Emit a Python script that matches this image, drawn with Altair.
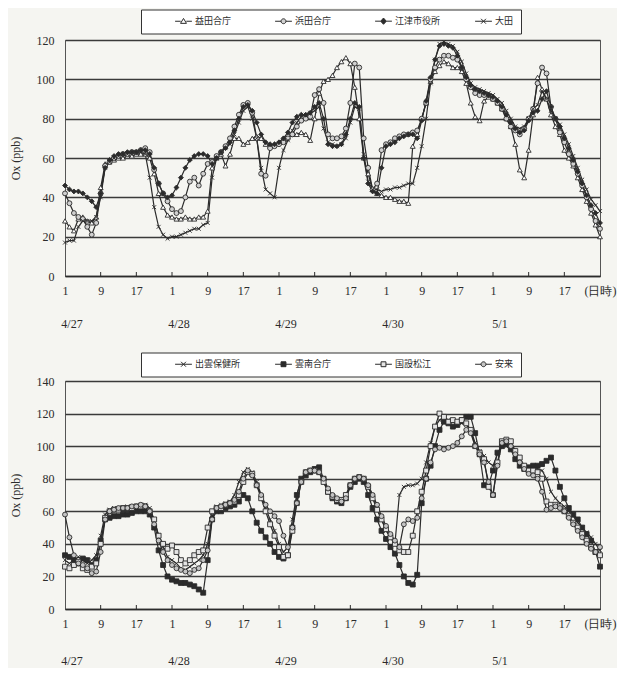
import altair as alt
import pandas as pd

hours = list(range(1, 122))
tick_hours = [1, 9, 17, 25, 33, 41, 49, 57, 65, 73, 81, 89, 97, 105, 113, 121]
inner_ticks = [9, 17, 25, 33, 41, 49, 57, 65, 73, 81, 89, 97, 105, 113]
date_labels = ["4/27", "4/28", "4/29", "4/30", "5/1"]
date_hours = [1, 25, 49, 73, 97]

top_names = ["益田合庁", "浜田合庁", "江津市役所", "大田"]
bottom_names = ["出雲保健所", "雲南合庁", "国設松江", "安来"]

masuda = [28, 25, 23, 29, 30, 28, 27, 30, 45, 57,
          58, 59, 60, 60, 61, 61, 62, 62, 62, 60,
          52, 42, 35, 31, 30, 29, 29, 30, 29, 29,
          30, 30, 33, 55, 60, 62, 56, 62, 70, 70,
          67, 68, 70, 71, 70, 67, 66, 67, 68, 70,
          72, 72, 72, 73, 72, 69, 80, 93, 99, 100,
          102, 106, 109, 111, 108, 96, 80, 60, 52, 44,
          42, 41, 40, 40, 39, 38, 38, 37, 66, 72,
          80, 88, 99, 104, 107, 109, 108, 106, 106, 104,
          98, 88, 81, 79, 89, 91, 90, 88, 85, 80,
          76, 67, 54, 50, 64, 82, 101, 95, 90, 82,
          76, 72, 64, 60, 56, 50, 44, 38, 32, 26,
          20]
hamada = [42, 37, 32, 30, 29, 25, 21, 27, 42, 56,
          58, 60, 61, 62, 62, 63, 63, 64, 65, 63,
          54, 47, 42, 38, 34, 32, 33, 40, 48, 50,
          46, 52, 57, 58, 61, 63, 66, 70, 76, 82,
          87, 88, 83, 70, 52, 51, 65, 66, 67, 68,
          70, 72, 76, 79, 80, 81, 92, 95, 88, 72,
          70, 70, 71, 75, 88, 108, 106, 70, 55, 44,
          47, 64, 67, 68, 70, 71, 72, 72, 73, 74,
          80, 88, 100, 106, 110, 112, 112, 111, 110, 106,
          100, 96, 93, 92, 92, 92, 90, 88, 85, 80,
          76, 74, 72, 75, 80, 85, 98, 106, 103, 86,
          80, 73, 68, 62, 57, 52, 46, 40, 34, 28,
          24]
gotsu = [46, 44, 43, 43, 42, 40, 38, 35, 42, 55,
         59, 61, 62, 62, 63, 63, 63, 64, 64, 62,
         55, 47, 42, 40, 41, 45, 50, 55, 59, 61,
         62, 62, 61, 57, 60, 63, 65, 68, 74, 80,
         86, 87, 84, 78, 72, 68, 67, 67, 68, 70,
         73, 78, 81, 82, 82, 83, 86, 88, 80, 67,
         66, 66, 67, 72, 80, 88, 86, 60, 47, 43,
         42, 55, 66, 67, 68, 70, 71, 72, 72, 70,
         79, 89, 101, 110, 117, 118, 117, 116, 112, 106,
         101, 97, 95, 94, 93, 92, 91, 89, 86, 82,
         78, 75, 73, 74, 79, 83, 84, 90, 94, 86,
         80, 76, 70, 65, 59, 53, 47, 41, 36, 32,
         27]
oda = [17, 18, 18, 25, 28, 28, 28, 30, 40, 55,
       58, 60, 61, 62, 62, 63, 63, 63, 62, 50,
       35, 25, 21, 19, 20, 20, 21, 22, 23, 24,
       24, 26, 27, 50, 60, 63, 65, 67, 72, 78,
       84, 86, 80, 70, 55, 44, 42, 40, 55, 64,
       69, 74, 78, 81, 82, 83, 84, 86, 75, 68,
       67, 66, 67, 70, 78, 86, 85, 62, 48, 44,
       44, 43, 44, 44, 45, 45, 46, 47, 47, 55,
       66, 80, 98, 110, 118, 119, 118, 117, 114, 109,
       103, 98, 96, 95, 94, 93, 92, 90, 88, 84,
       80, 76, 75, 76, 80, 85, 87, 94, 90, 84,
       80, 77, 72, 67, 61, 55, 49, 44, 39, 36,
       33]

izumo = [30, 28, 30, 32, 30, 28, 30, 33, 45, 58,
         61, 62, 62, 62, 63, 63, 63, 64, 64, 62,
         55, 45, 38, 32, 30, 28, 25, 24, 26, 28,
         30, 33, 40, 57, 63, 64, 65, 66, 70, 78,
         84, 86, 84, 78, 70, 62, 55, 48, 40, 35,
         38, 55, 70, 80, 84, 85, 85, 84, 78, 72,
         69, 67, 67, 70, 76, 80, 81, 80, 76, 70,
         62, 55, 48, 44, 40, 70, 75, 76, 76, 77,
         80, 90, 102, 112, 116, 117, 116, 115, 114, 114,
         113, 110, 102, 97, 94, 90, 88, 95, 100, 100,
         98, 94, 90, 88, 87, 86, 86, 85, 80, 72,
         68, 65, 63, 60, 57, 53, 50, 47, 44, 40,
         36]
unnan = [33, 32, 30, 28, 31, 30, 27, 30, 42, 55,
         56, 57, 57, 58, 58, 59, 60, 60, 60, 58,
         50, 36, 27, 20, 18, 17, 16, 16, 15, 14,
         12, 10, 30, 55, 60, 60, 62, 63, 64, 66,
         70, 68, 60, 53, 48, 44, 40, 35, 32, 31,
         33, 50, 70, 80, 82, 84, 86, 87, 80, 72,
         68, 66, 65, 68, 75, 78, 80, 78, 70, 62,
         55, 48, 43, 38, 34, 27, 20, 16, 15, 21,
         65, 80, 88, 100, 110, 115, 114, 112, 113, 116,
         118, 118, 108, 95, 76, 76, 85, 96, 100, 102,
         98, 92, 88, 86, 87, 88, 88, 89, 91, 93,
         85, 75, 68, 62, 58, 55, 50, 46, 42, 35,
         26]
matsue = [26, 25, 27, 29, 25, 24, 26, 28, 40, 56,
          60, 61, 61, 62, 62, 62, 63, 63, 63, 60,
          55, 45, 40, 37, 39, 35, 30, 28, 30, 33,
          35, 36, 50, 60, 62, 62, 64, 65, 66, 70,
          78, 84, 83, 76, 68, 60, 52, 45, 38, 32,
          33, 48, 65, 78, 84, 85, 85, 84, 78, 72,
          69, 67, 67, 70, 76, 80, 81, 80, 75, 68,
          61, 55, 49, 44, 40, 36, 35, 35, 45, 60,
          72, 85, 100, 112, 120, 118, 115, 116, 115, 116,
          114, 110, 100, 96, 92, 75, 70, 90, 103, 104,
          103, 97, 93, 88, 85, 85, 84, 80, 66, 64,
          64, 63, 60, 57, 53, 50, 46, 42, 38, 35,
          33]
yasugi = [58, 44, 33, 28, 27, 25, 22, 23, 35, 55,
          60, 61, 62, 62, 62, 63, 63, 64, 63, 60,
          52, 42, 35, 30, 27, 25, 24, 23, 22, 24,
          25, 30, 36, 55, 62, 63, 64, 65, 67, 72,
          80, 85, 82, 76, 70, 64, 60, 57, 54, 45,
          38, 50, 65, 78, 84, 85, 85, 84, 80, 74,
          70, 68, 66, 68, 76, 80, 81, 80, 76, 70,
          64, 57, 51, 46, 42, 38, 52, 55, 54, 56,
          68, 80, 90, 98, 99, 98, 99, 100, 102, 106,
          110, 108, 100, 95, 90, 78, 70, 88, 102, 103,
          100, 95, 90, 86, 83, 82, 80, 72, 61, 62,
          63, 62, 60, 56, 52, 48, 44, 40, 37, 35,
          38]

SERIF = "Liberation Serif"
CJK = "Noto Sans CJK JP"
INK = "#2b2b2b"

X_PATH = "M-0.8,-0.8L0.8,0.8M-0.8,0.8L0.8,-0.8"
LEG_TRI = "M-2.4,0H-0.8M0.8,0H2.4M0,-0.8L0.85,0.6L-0.85,0.6Z"
LEG_CIRC = "M-2.4,0H-0.7M0.7,0H2.4M0.7,0A0.7,0.7,0,1,1,-0.7,0A0.7,0.7,0,1,1,0.7,0Z"
LEG_DIA = "M-2.4,0H-0.8M0.8,0H2.4M0,-0.9L0.8,0L0,0.9L-0.8,0Z"
LEG_X = "M-2.4,0H2.4M-0.7,-0.7L0.7,0.7M-0.7,0.7L0.7,-0.7"
LEG_SQ = "M-2.4,0H-0.7M0.7,0H2.4M-0.7,-0.7H0.7V0.7H-0.7Z"


def make_df(names, arrays):
    rows = []
    for name, arr in zip(names, arrays):
        for h, v in zip(hours, arr):
            rows.append({"hour": h, "series": name, "value": v})
    return pd.DataFrame(rows)


def panel(names, arrays, shapes, leg_shapes, fills, ymax, H, leg_y, date_off):
    df = make_df(names, arrays)
    xenc = alt.X(
        "hour:Q",
        scale=alt.Scale(domain=[1, 121], nice=False, zero=False),
        axis=alt.Axis(
            values=tick_hours,
            labelExpr="datum.value == 121 ? '(日時)' : '' + ((datum.value - 1) % 24 + 1)",
            ticks=False, grid=False, title=None, domainColor=INK, domainWidth=1.3,
            labelFont=SERIF, labelFontSize=12, labelColor=INK, labelPadding=9,
            labelFlush=False, labelOverlap=False,
        ),
    )
    yenc = alt.Y(
        "value:Q",
        scale=alt.Scale(domain=[0, ymax], nice=False),
        axis=alt.Axis(
            values=list(range(0, ymax + 1, 20)), title="Ox (ppb)",
            grid=True, gridColor="#3a3a3a", gridWidth=1.3, ticks=False, domain=False,
            labelFont=SERIF, labelFontSize=12, labelColor=INK, labelPadding=11,
            titleFont=SERIF, titleFontSize=12, titleFontWeight="normal", titleColor=INK,
            titlePadding=14,
        ),
    )
    base = alt.Chart(df)
    lines = base.mark_line(color=INK, strokeWidth=1.2).encode(x=xenc, y=yenc, detail="series:N")
    pts = base.mark_point(size=24, stroke=INK, strokeWidth=0.9, opacity=1).encode(
        x=xenc, y=yenc,
        shape=alt.Shape("series:N", scale=alt.Scale(domain=names, range=shapes), legend=None),
        fill=alt.Fill("series:N", scale=alt.Scale(domain=names, range=fills), legend=None),
    )
    leg = alt.Legend(
        orient="none", legendX=76, legendY=leg_y, direction="horizontal", columns=4,
        title=" ", titleOrient="left", titlePadding=31, titleFontSize=6,
        strokeColor="#333", fillColor="white", padding=7,
        labelFont=CJK, labelFontSize=9, labelColor=INK, labelOffset=7,
        symbolSize=49, symbolStrokeColor=INK, symbolStrokeWidth=1,
        columnPadding=32, gridAlign="all",
    )
    legend_layer = base.transform_filter("false").mark_point(opacity=1, strokeWidth=1).encode(
        x=xenc, y=yenc,
        shape=alt.Shape("series:N", scale=alt.Scale(domain=names, range=leg_shapes), legend=leg),
        fill=alt.Fill("series:N", scale=alt.Scale(domain=names, range=fills), legend=leg),
        stroke=alt.Stroke("series:N", scale=alt.Scale(domain=names, range=[INK] * 4), legend=leg),
    )
    ticks = alt.Chart(pd.DataFrame({"hour": inner_ticks})).mark_rule(color=INK, strokeWidth=1).encode(
        x=xenc, y=alt.value(H), y2=alt.value(H - 4)
    )
    dates = alt.Chart(pd.DataFrame({"hour": date_hours, "label": date_labels})).mark_text(
        font=SERIF, fontSize=12, color=INK, dx=7, baseline="middle"
    ).encode(x=xenc, y=alt.value(H + date_off), text="label:N")
    return alt.layer(lines, pts, legend_layer, ticks, dates).resolve_scale(
        shape="independent", fill="independent", stroke="independent"
    ).resolve_legend(shape="independent", fill="independent", stroke="independent").properties(
        width=535, height=H
    )


top = panel(
    top_names, [masuda, hamada, gotsu, oda],
    ["triangle-up", "circle", "diamond", X_PATH],
    [LEG_TRI, LEG_CIRC, LEG_DIA, LEG_X],
    ["white", "#d0d0d0", INK, INK],
    120, 236, -30.5, 48,
)
bottom = panel(
    bottom_names, [izumo, unnan, matsue, yasugi],
    [X_PATH, "square", "square", "circle"],
    [LEG_X, LEG_SQ, LEG_SQ, LEG_CIRC],
    [INK, INK, "#e4e4e4", "#c4c4c4"],
    140, 228, -28.5, 52,
)

chart = alt.vconcat(top, bottom, spacing=20).resolve_scale(
    shape="independent", fill="independent", stroke="independent", x="independent", y="independent"
).resolve_legend(shape="independent", fill="independent", stroke="independent").properties(
    padding={"left": 0, "top": 0, "right": 0, "bottom": 0},
    background="#f5f5f1",
).configure_view(stroke="#555", strokeWidth=1)

chart.save("out.html", embed_options={"renderer": "svg", "actions": False})
